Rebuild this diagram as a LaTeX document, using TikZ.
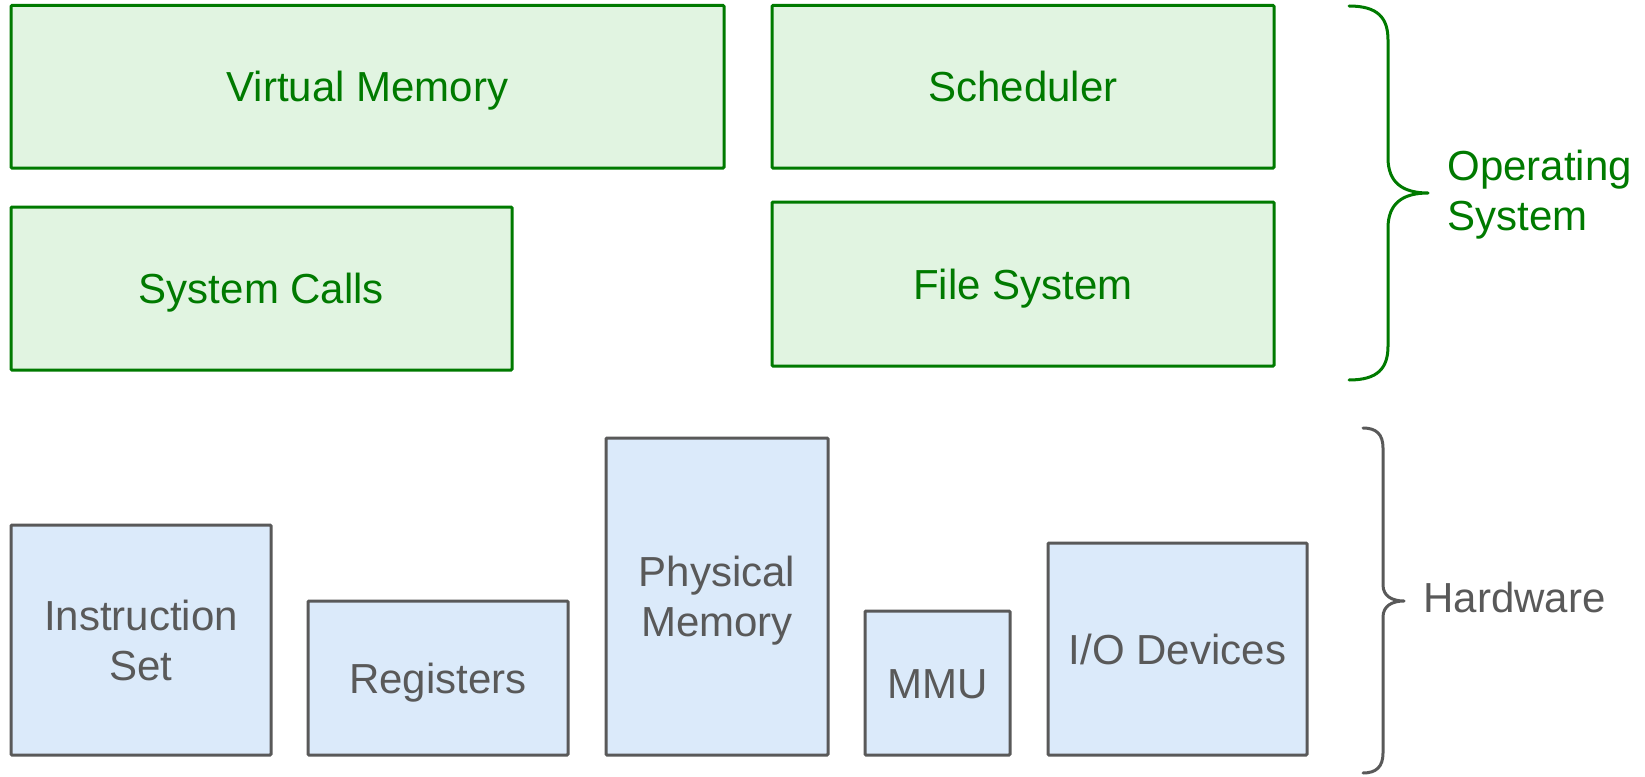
\documentclass[tikz,border=0pt]{standalone}
\usepackage{fontspec}
\setmainfont{Liberation Sans}
\definecolor{osgreen}{RGB}{0,122,0}
\definecolor{osfill}{RGB}{225,244,225}
\definecolor{hwgray}{RGB}{89,89,89}
\definecolor{hwfill}{RGB}{219,234,250}
\begin{document}
\begin{tikzpicture}[x=1pt,y=-1pt,
  box/.style={rectangle, line width=3pt, rounded corners=1pt, inner sep=0pt,
    align=center, font=\fontsize{42}{50}\selectfont,
    text height=30pt, text depth=0pt},
  twolines/.style={text height=80pt, text depth=0pt},
  osbox/.style={box, draw=osgreen, fill=osfill, text=osgreen},
  hwbox/.style={box, draw=hwgray, fill=hwfill, text=hwgray},
  bracket/.style={line width=3pt, line cap=round, line join=round},
  side/.style={anchor=base west, align=left, font=\fontsize{42}{50}\selectfont}]
\useasboundingbox (0,0) rectangle (1645,776);

% operating system components
\node[osbox, minimum width=713pt, minimum height=162.5pt] (vm) at (367.5,86.75) {Virtual Memory};
\node[osbox, minimum width=502pt, minimum height=162.5pt] (sched) at (1023,86.75) {Scheduler};
\node[osbox, minimum width=501pt, minimum height=163pt] (sc) at (261.5,288.5) {System Calls};
\node[osbox, minimum width=502pt, minimum height=164pt] (fs) at (1023,284) {File System};

% hardware components
\node[hwbox, twolines, minimum width=260pt, minimum height=230pt] (is) at (141,640) {Instruction\\Set};
\node[hwbox, minimum width=260pt, minimum height=154pt] (reg) at (438,678) {Registers};
\node[hwbox, twolines, minimum width=222pt, minimum height=317pt] (pm) at (717,596.5) {Physical\\Memory};
\node[hwbox, minimum width=145pt, minimum height=144pt] (mmu) at (937.5,683) {MMU};
\node[hwbox, minimum width=259pt, minimum height=212pt] (io) at (1177.5,649) {I/O Devices};

% braces and their labels
\draw[bracket, osgreen] (1349,6) .. controls (1378,6) and (1388,18) .. (1388,40)
  -- (1388,158) .. controls (1388,182) and (1402,193) .. (1428,193)
  .. controls (1402,193) and (1388,204) .. (1388,228)
  -- (1388,346) .. controls (1388,368) and (1378,380) .. (1349,380);
\node[side, text=osgreen] (oslabel) at (1444,230) {Operating\\System};

\draw[bracket, hwgray] (1363,428) .. controls (1376,428) and (1383,434) .. (1383,448)
  -- (1383,585) .. controls (1383,596) and (1392,601) .. (1404,601)
  .. controls (1392,601) and (1383,606) .. (1383,617)
  -- (1383,753) .. controls (1383,767) and (1376,773) .. (1363,773);
\node[side, text=hwgray] (hwlabel) at (1420,612) {Hardware};
\end{tikzpicture}
\end{document}
